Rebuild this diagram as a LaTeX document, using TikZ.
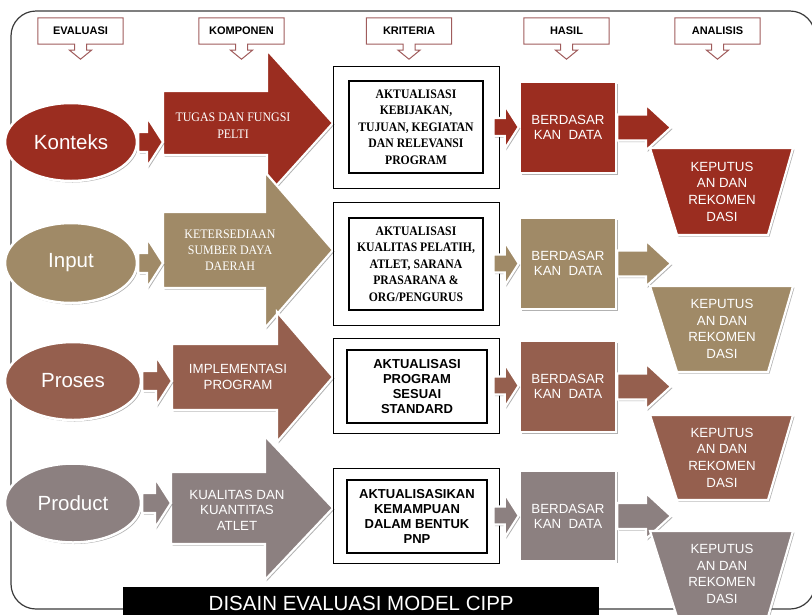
\documentclass[tikz,border=0pt]{standalone}
\usepackage{fontspec}
\setmainfont{Liberation Sans}
\newfontfamily\condserif[FakeStretch=0.92]{Liberation Serif}
\newfontfamily\critserif[FakeStretch=0.9]{Liberation Serif}
\usetikzlibrary{shapes.geometric, shadows, calc}
\definecolor{ctxred}{HTML}{9B2D20}
\definecolor{inpkhaki}{HTML}{A08A67}
\definecolor{probrown}{HTML}{955F4E}
\definecolor{prdgray}{HTML}{8C8080}
\definecolor{hdrborder}{HTML}{A05C5C}
\definecolor{framegray}{HTML}{3A3A3A}

\newcommand{\blockarrow}[6]{%
  \path[blockarr, fill=#6] let \p1=(#1), \p2=(#2) in
    ({\x1},{\y1+#3}) -- ({\x2-#5},{\y1+#3}) -- ({\x2-#5},{\y1+#4}) -- ({\x2},{\y1})
    -- ({\x2-#5},{\y1-#4}) -- ({\x2-#5},{\y1-#3}) -- ({\x1},{\y1-#3}) -- cycle;}
\newcommand{\bigarrow}[7]{%
  \path[blockarr, fill=#7] (#1,{#4-#5}) -- (#2,{#4-#5}) -- (#2,{#4-#6}) -- (#3,#4)
    -- (#2,{#4+#6}) -- (#2,{#4+#5}) -- (#1,{#4+#5}) -- cycle;}
\newcommand{\decision}[4]{%
  \path[blockarr, fill=#3] (650,#1) -- (793,#1) -- (768,#2) -- (677,#2) -- cycle;
  \node[declbl] (#4) at (722,{(#1+#2)/2}) {KEPUTUS\\AN DAN\\REKOMEN\\DASI};}

\begin{document}
\begin{tikzpicture}[x=1pt, y=-1pt,
      softshadow/.style={drop shadow={shadow xshift=1.5pt, shadow yshift=-1.5pt,
        opacity=0.3, fill=black}},
      blockarr/.style={draw=white, line width=2.2pt, line join=miter, softshadow},
      hdr/.style={minimum width=85pt, minimum height=26pt, inner sep=0pt,
        font=\fontsize{11}{13}\selectfont\bfseries},
      stage/.style={ellipse, draw=white, line width=2.5pt, softshadow, text=white,
        inner sep=0pt, font=\fontsize{20.5}{24}\selectfont},
      kompserif/.style={text=white, align=center,
        font=\condserif\fontsize{13}{17}\selectfont},
      kompsans/.style={text=white, align=center, font=\fontsize{13.3}{15.5}\selectfont},
      kritouter/.style={draw=black, line width=0.8pt, inner sep=0pt, minimum width=166pt},
      kritinner/.style={draw=black, line width=1.3pt, align=center, inner sep=0pt},
      kritserif/.style={font=\critserif\bfseries\fontsize{13}{16.5}\selectfont},
      kritsans/.style={font=\bfseries\fontsize{13}{15.3}\selectfont},
      result/.style={draw=white, line width=2.5pt, softshadow, minimum width=96pt,
        minimum height=91pt, text=white, align=center, inner sep=0pt,
        font=\fontsize{13.3}{15}\selectfont},
      declbl/.style={text=white, align=center, font=\fontsize{13.3}{16.7}\selectfont}
    ]
      \clip (0,0) rectangle (812,614);
      \draw[framegray, line width=1.2pt, rounded corners=25pt] (11,11) rectangle (815,609);

      \node[hdr] (hEval) at (80.5,31) {EVALUASI};
      \node[hdr] (hKomp) at (241.5,31) {KOMPONEN};
      \node[hdr] (hKrit) at (409,31) {KRITERIA};
      \node[hdr] (hHasil) at (566.5,31) {HASIL};
      \node[hdr] (hAnal) at (717.5,31) {ANALISIS};
      \foreach \h in {hEval,hKomp,hKrit,hHasil,hAnal}
        \draw[hdrborder, line width=1pt] (\h.north west) -- (\h.north east) -- (\h.south east)
          -- ([xshift=6pt]\h.south) -- ++(0,6) -- ++(5,0) -- ++(-11,9) -- ++(-11,-9)
          -- ++(5,0) -- ++(0,-6) -- (\h.south west) -- cycle;

      \bigarrow{163}{267}{333}{123}{32}{73}{ctxred}
      \coordinate (komp1) at (163,123);
      \node[stage, fill=ctxred, minimum width=132pt, minimum height=78pt] (konteks)
        at (71,142) {Konteks};
      \blockarrow{konteks.east}{komp1}{10pt}{25pt}{16pt}{ctxred}
      \node[kompserif] (kompt1) at (233,126) {TUGAS DAN FUNGSI\\PELTI};

      \bigarrow{163}{265}{333}{250}{38}{78}{inpkhaki}
      \coordinate (komp2) at (163,250);
      \node[stage, fill=inpkhaki, minimum width=132pt, minimum height=80pt] (input)
        at (71,263) {Input};
      \blockarrow{input.east}{komp2}{10pt}{25pt}{16pt}{inpkhaki}
      \node[kompserif, font=\condserif\fontsize{13}{16}\selectfont] (kompt2)
        at (230,250) {KETERSEDIAAN\\SUMBER DAYA\\DAERAH};

      \bigarrow{172}{277}{333}{377}{33}{65}{probrown}
      \coordinate (komp3) at (172,377);
      \node[stage, fill=probrown, minimum width=136pt, minimum height=78pt] (proses)
        at (73,381) {Proses};
      \blockarrow{proses.east}{komp3}{10pt}{25pt}{16pt}{probrown}
      \node[kompsans] (kompt3) at (238,377) {IMPLEMENTASI\\PROGRAM};

      \bigarrow{171}{265}{333}{508}{36}{72}{prdgray}
      \coordinate (komp4) at (171,508);
      \node[stage, fill=prdgray, minimum width=136pt, minimum height=79pt] (product)
        at (73,503) {Product};
      \blockarrow{product.east}{komp4}{10pt}{25pt}{16pt}{prdgray}
      \node[kompsans] (kompt4) at (237,510) {KUALITAS DAN\\KUANTITAS\\ATLET};

      \node[kritouter, minimum height=122pt] (krit1o) at (416,127) {};
      \node[kritinner, kritserif, minimum width=134pt, minimum height=92pt] (krit1)
        at (416,127) {AKTUALISASI\\KEBIJAKAN,\\TUJUAN, KEGIATAN\\DAN RELEVANSI\\PROGRAM};
      \node[kritouter, minimum height=123pt] (krit2o) at (416,263.5) {};
      \node[kritinner, kritserif, minimum width=134pt, minimum height=92pt] (krit2)
        at (416,264) {AKTUALISASI\\KUALITAS PELATIH,\\ATLET, SARANA\\PRASARANA \&\\ORG/PENGURUS};
      \node[kritouter, minimum height=95pt] (krit3o) at (416,385.5) {};
      \node[kritinner, kritsans, minimum width=140pt, minimum height=73pt] (krit3)
        at (417,386.5) {AKTUALISASI\\PROGRAM\\SESUAI\\STANDARD};
      \node[kritouter, minimum height=95pt] (krit4o) at (416,515.5) {};
      \node[kritinner, kritsans, minimum width=140pt, minimum height=73pt] (krit4)
        at (417,516.5) {AKTUALISASIKAN\\KEMAMPUAN\\DALAM BENTUK\\PNP};

      \node[result, fill=ctxred] (has1) at (568,127.5) {BERDASAR\\KAN~ DATA};
      \node[result, fill=inpkhaki] (has2) at (568,263.5) {BERDASAR\\KAN~ DATA};
      \node[result, fill=probrown] (has3) at (568,386.5) {BERDASAR\\KAN~ DATA};
      \node[result, fill=prdgray] (has4) at (568,516) {BERDASAR\\KAN~ DATA};
      \blockarrow{[xshift=-6pt]krit1o.east}{has1.west}{9pt}{22pt}{14pt}{ctxred}
      \blockarrow{[xshift=-6pt]krit2o.east}{has2.west}{9pt}{22pt}{14pt}{inpkhaki}
      \blockarrow{[xshift=-6pt]krit3o.east}{has3.west}{9pt}{22pt}{14pt}{probrown}
      \blockarrow{[xshift=-6pt]krit4o.east}{has4.west}{9pt}{22pt}{14pt}{prdgray}

      \coordinate (tip1) at (671,127.5);
      \coordinate (tip2) at (671,263.5);
      \coordinate (tip3) at (671,386.5);
      \coordinate (tip4) at (671,516);
      \blockarrow{has1.east}{tip1}{13pt}{23pt}{25pt}{ctxred}
      \decision{148}{235}{ctxred}{dec1}
      \blockarrow{has2.east}{tip2}{13pt}{23pt}{25pt}{inpkhaki}
      \decision{286}{372}{inpkhaki}{dec2}
      \blockarrow{has3.east}{tip3}{13pt}{23pt}{25pt}{probrown}
      \decision{415}{500}{probrown}{dec3}
      \blockarrow{has4.east}{tip4}{13pt}{23pt}{25pt}{prdgray}
      \decision{531}{617}{prdgray}{dec4}

      \node[fill=black, text=white, minimum width=476pt, minimum height=32pt, inner sep=0pt,
        anchor=north west, font=\fontsize{20.5}{24}\selectfont] (title)
        at (123,587) {DISAIN EVALUASI MODEL CIPP};
    \end{tikzpicture}
\end{document}
